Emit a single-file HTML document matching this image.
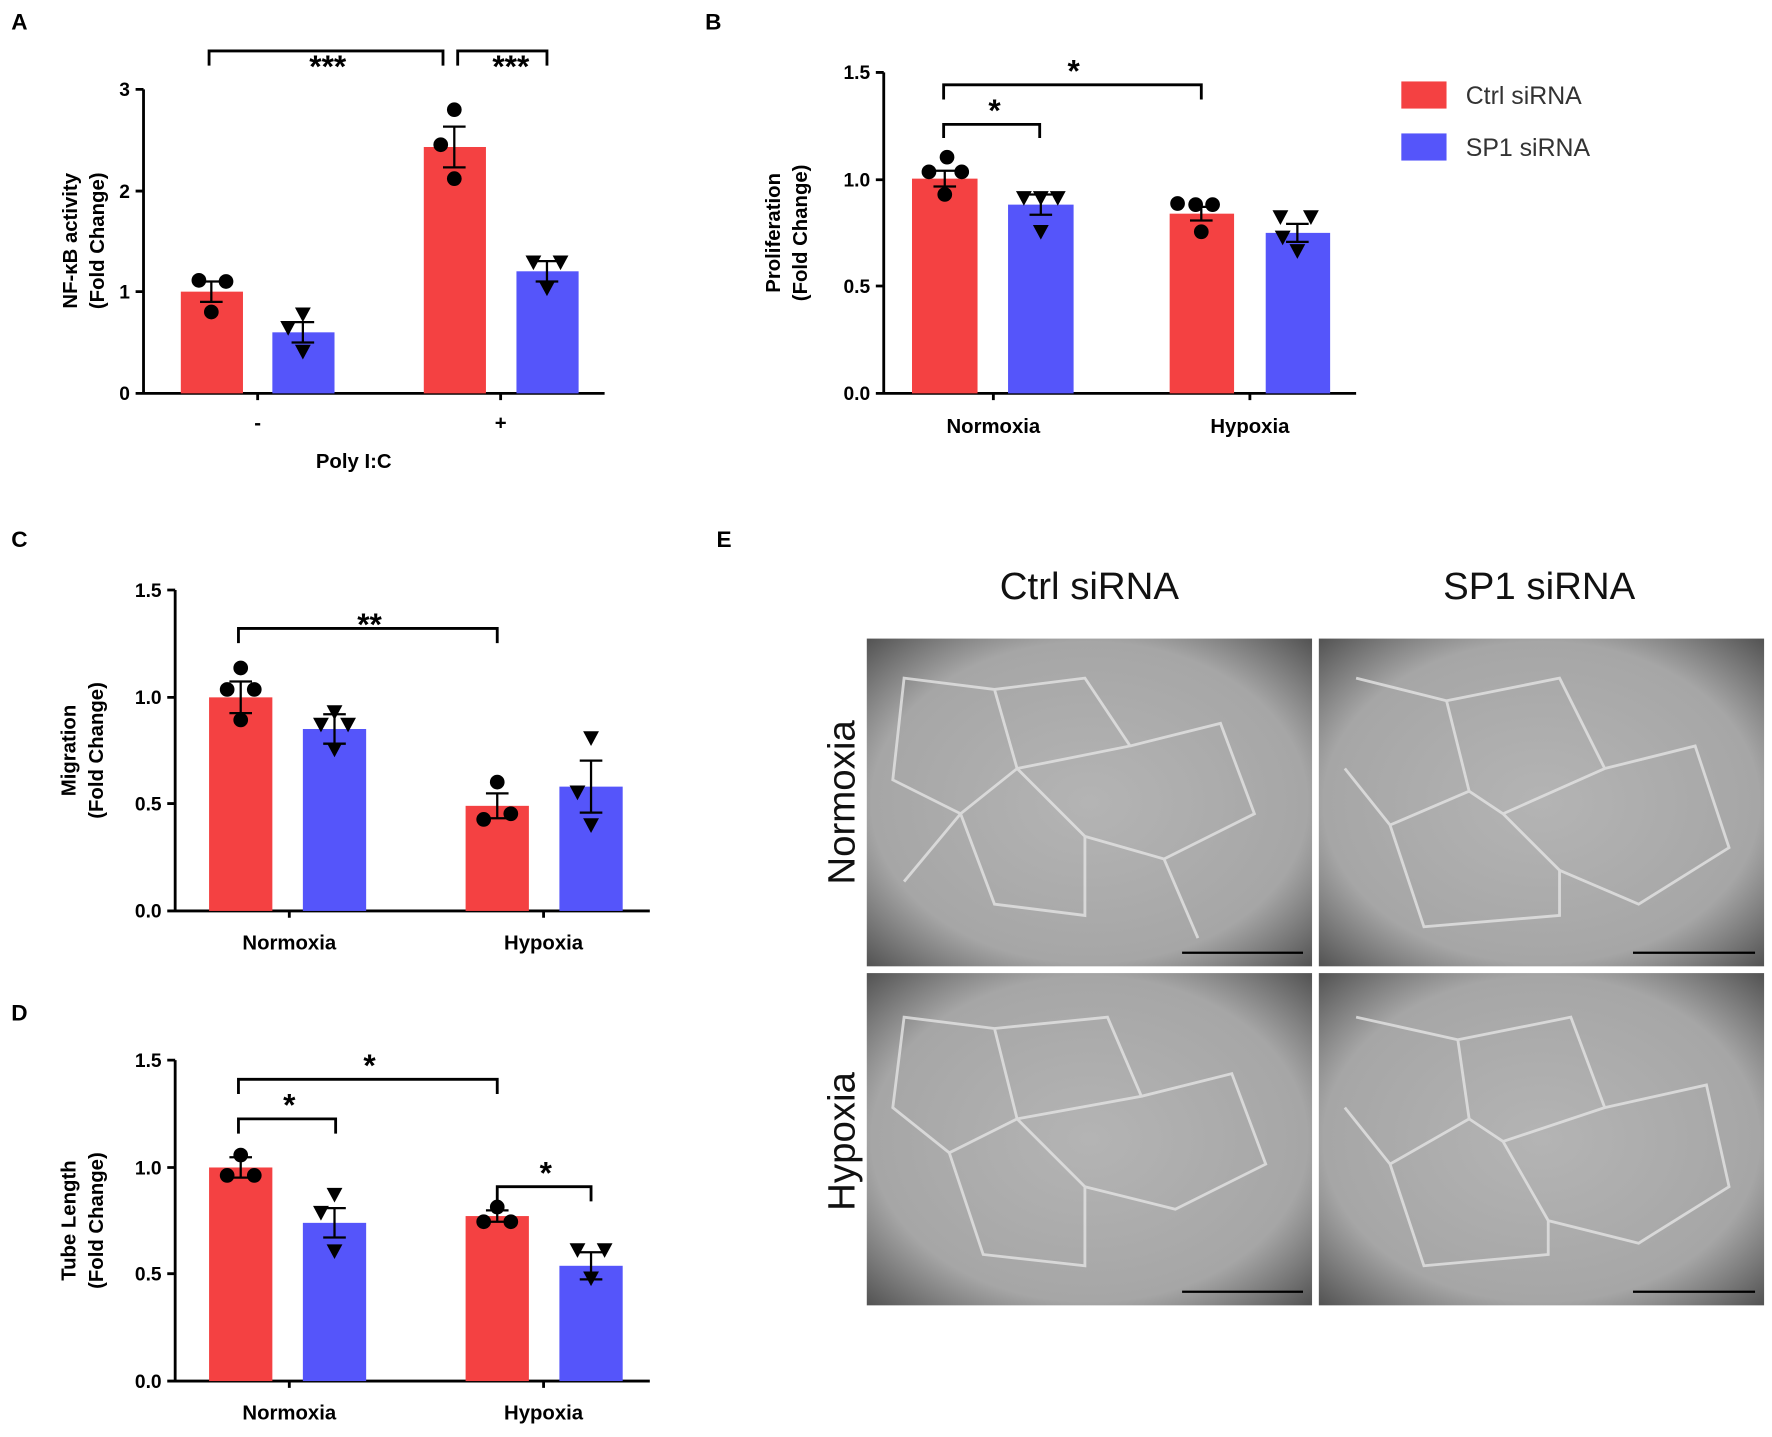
<!DOCTYPE html>
<html><head><style>body{margin:0;background:#fff}</style></head><body>
<svg width="1772" height="1432" viewBox="0 0 1568 1267" xmlns="http://www.w3.org/2000/svg" font-family="Liberation Sans, Arial, sans-serif">
<defs>
<radialGradient id="g" cx="50%" cy="50%" r="70%"><stop offset="0" stop-color="#b4b4b4"/><stop offset="0.7" stop-color="#a6a6a6"/><stop offset="1" stop-color="#555"/></radialGradient>
<g id="tri"><path d="M-7,-6 L7,-6 L0,7 Z" fill="#000"/></g>
</defs>
<g font-weight="bold" font-size="20">
<text x="10" y="26">A</text><text x="624" y="26">B</text><text x="10" y="484">C</text><text x="10" y="903">D</text><text x="634" y="484">E</text>
</g>
<g stroke="#000" stroke-width="2.5" fill="none">
<!-- A axes -->
<path d="M127,79 V348 H535 M120,79H127 M120,169H127 M120,258H127 M120,348H127 M228,348v6 M443,348v6"/>
<!-- B axes -->
<path d="M782,64 V348 H1200 M775,64H782 M775,159H782 M775,253H782 M775,348H782 M879,348v6 M1106,348v6"/>
<!-- C axes -->
<path d="M155,522 V806 H575 M148,522H155 M148,617H155 M148,711H155 M148,806H155 M256,806v6 M481,806v6"/>
<!-- D axes -->
<path d="M155,938 V1222 H575 M148,938H155 M148,1033H155 M148,1127H155 M148,1222H155 M256,1222v6 M481,1222v6"/>
</g>
<g font-size="17" font-weight="bold" text-anchor="end">
<text x="115" y="85">3</text><text x="115" y="175">2</text><text x="115" y="264">1</text><text x="115" y="354">0</text>
<text x="770" y="70">1.5</text><text x="770" y="165">1.0</text><text x="770" y="259">0.5</text><text x="770" y="354">0.0</text>
<text x="143" y="528">1.5</text><text x="143" y="623">1.0</text><text x="143" y="717">0.5</text><text x="143" y="812">0.0</text>
<text x="143" y="944">1.5</text><text x="143" y="1039">1.0</text><text x="143" y="1133">0.5</text><text x="143" y="1228">0.0</text>
</g>
<g font-size="18" font-weight="bold" text-anchor="middle">
<text x="228" y="380">-</text><text x="443" y="380">+</text><text x="313" y="414">Poly I:C</text>
<text x="879" y="383">Normoxia</text><text x="1106" y="383">Hypoxia</text>
<text x="256" y="840">Normoxia</text><text x="481" y="840">Hypoxia</text>
<text x="256" y="1256">Normoxia</text><text x="481" y="1256">Hypoxia</text>
<text transform="translate(68,213) rotate(-90)">NF-κB activity</text><text transform="translate(92,213) rotate(-90)">(Fold Change)</text>
<text transform="translate(690,206) rotate(-90)">Proliferation</text><text transform="translate(714,206) rotate(-90)">(Fold Change)</text>
<text transform="translate(67,664) rotate(-90)">Migration</text><text transform="translate(91,664) rotate(-90)">(Fold Change)</text>
<text transform="translate(67,1080) rotate(-90)">Tube Length</text><text transform="translate(91,1080) rotate(-90)">(Fold Change)</text>
</g>
<!-- bars -->
<g fill="#f44142">
<rect x="160" y="258" width="55" height="90"/><rect x="375" y="130" width="55" height="218"/>
<rect x="807" y="158" width="58" height="190"/><rect x="1035" y="189" width="57" height="159"/>
<rect x="185" y="617" width="56" height="189"/><rect x="412" y="713" width="56" height="93"/>
<rect x="185" y="1033" width="56" height="189"/><rect x="412" y="1076" width="56" height="146"/>
</g>
<g fill="#5555fa">
<rect x="241" y="294" width="55" height="54"/><rect x="457" y="240" width="55" height="108"/>
<rect x="892" y="181" width="58" height="167"/><rect x="1120" y="206" width="57" height="142"/>
<rect x="268" y="645" width="56" height="161"/><rect x="495" y="696" width="56" height="110"/>
<rect x="268" y="1082" width="56" height="140"/><rect x="495" y="1120" width="56" height="102"/>
</g>
<!-- error bars -->
<g stroke="#000" stroke-width="2" fill="none">
<path d="M187,249V267M177,249h20M177,267h20"/><path d="M268,285V303M258,285h20M258,303h20"/>
<path d="M402,112V148M392,112h20M392,148h20"/><path d="M484,231V249M474,231h20M474,249h20"/>
<path d="M836,151V165M826,151h20M826,165h20"/><path d="M921,172V190M911,172h20M911,190h20"/>
<path d="M1063,183V195M1053,183h20M1053,195h20"/><path d="M1148,198V214M1138,198h20M1138,214h20"/>
<path d="M213,603V631M203,603h20M203,631h20"/><path d="M296,632V658M286,632h20M286,658h20"/>
<path d="M440,702V724M430,702h20M430,724h20"/><path d="M523,673V719M513,673h20M513,719h20"/>
<path d="M213,1024V1042M203,1024h20M203,1042h20"/><path d="M296,1069V1095M286,1069h20M286,1095h20"/>
<path d="M440,1071V1081M430,1071h20M430,1081h20"/><path d="M523,1108V1132M513,1108h20M513,1132h20"/>
</g>
<!-- points -->
<g fill="#000">
<circle cx="176" cy="248" r="6.5"/><circle cx="200" cy="249" r="6.5"/><circle cx="187" cy="276" r="6.5"/>
<circle cx="402" cy="97" r="6.5"/><circle cx="390" cy="128" r="6.5"/><circle cx="402" cy="158" r="6.5"/>
<circle cx="822" cy="152" r="6.5"/><circle cx="838" cy="139" r="6.5"/><circle cx="851" cy="152" r="6.5"/><circle cx="836" cy="172" r="6.5"/>
<circle cx="1042" cy="180" r="6.5"/><circle cx="1058" cy="181" r="6.5"/><circle cx="1073" cy="181" r="6.5"/><circle cx="1063" cy="205" r="6.5"/>
<circle cx="213" cy="591" r="6.5"/><circle cx="201" cy="610" r="6.5"/><circle cx="225" cy="610" r="6.5"/><circle cx="213" cy="637" r="6.5"/>
<circle cx="440" cy="692" r="6.5"/><circle cx="428" cy="725" r="6.5"/><circle cx="452" cy="720" r="6.5"/>
<circle cx="213" cy="1022" r="6.5"/><circle cx="201" cy="1040" r="6.5"/><circle cx="225" cy="1040" r="6.5"/>
<circle cx="440" cy="1068" r="6.5"/><circle cx="428" cy="1081" r="6.5"/><circle cx="452" cy="1081" r="6.5"/>
</g>
<use href="#tri" x="268" y="278"/><use href="#tri" x="255" y="290"/><use href="#tri" x="268" y="311"/>
<use href="#tri" x="472" y="232"/><use href="#tri" x="496" y="232"/><use href="#tri" x="484" y="255"/>
<use href="#tri" x="906" y="175"/><use href="#tri" x="921" y="175"/><use href="#tri" x="936" y="175"/><use href="#tri" x="921" y="205"/>
<use href="#tri" x="1133" y="192"/><use href="#tri" x="1160" y="192"/><use href="#tri" x="1135" y="210"/><use href="#tri" x="1148" y="222"/>
<use href="#tri" x="296" y="630"/><use href="#tri" x="284" y="641"/><use href="#tri" x="308" y="641"/><use href="#tri" x="296" y="663"/>
<use href="#tri" x="523" y="653"/><use href="#tri" x="511" y="701"/><use href="#tri" x="523" y="730"/>
<use href="#tri" x="296" y="1057"/><use href="#tri" x="284" y="1073"/><use href="#tri" x="296" y="1107"/>
<use href="#tri" x="511" y="1106"/><use href="#tri" x="535" y="1106"/><use href="#tri" x="523" y="1131"/>
<!-- brackets -->
<g stroke="#000" stroke-width="2.5" fill="none">
<path d="M185,58V45H392V58"/><path d="M405,58V45H484V58"/>
<path d="M835,88V75H1063V88"/><path d="M835,122V110H920V122"/>
<path d="M211,569V556H440V569"/>
<path d="M211,968V955H440V968"/><path d="M211,1003V990H297V1003"/><path d="M440,1063V1050H523V1063"/>
</g>
<g font-size="28" font-weight="bold" text-anchor="middle">
<text x="290" y="68">***</text><text x="452" y="68">***</text>
<text x="950" y="72">*</text><text x="880" y="107">*</text>
<text x="327" y="562">**</text>
<text x="327" y="952">*</text><text x="256" y="987">*</text><text x="483" y="1047">*</text>
</g>
<!-- legend -->
<rect x="1240" y="72" width="40" height="24" fill="#f44142"/><rect x="1240" y="118" width="40" height="24" fill="#5555fa"/>
<g font-size="22" fill="#333"><text x="1297" y="92">Ctrl siRNA</text><text x="1297" y="138">SP1 siRNA</text></g>
<!-- panel E -->
<g font-size="34" fill="#111" text-anchor="middle">
<text x="964" y="530">Ctrl siRNA</text><text x="1362" y="530">SP1 siRNA</text>
<text transform="translate(756,710) rotate(-90)">Normoxia</text>
<text transform="translate(756,1010) rotate(-90)">Hypoxia</text>
</g>
<g>
<rect x="767" y="565" width="394" height="290" fill="url(#g)"/>
<rect x="1167" y="565" width="394" height="290" fill="url(#g)"/>
<rect x="767" y="861" width="394" height="294" fill="url(#g)"/>
<rect x="1167" y="861" width="394" height="294" fill="url(#g)"/>
<g stroke="#e4e4e4" stroke-width="2.5" fill="none" opacity="0.8">
<path d="M800,600 L880,610 L900,680 L850,720 L790,690Z M880,610 L960,600 L1000,660 L900,680 M1000,660 L1080,640 L1110,720 L1030,760 L960,740 L900,680 M850,720 L880,800 L960,810 L960,740 M1030,760 L1060,830 M800,780 L850,720"/>
<path d="M1200,600 L1280,620 L1300,700 L1230,730 L1190,680 M1280,620 L1380,600 L1420,680 L1330,720 L1300,700 M1420,680 L1500,660 L1530,750 L1450,800 L1380,770 L1330,720 M1230,730 L1260,820 L1380,810 L1380,770"/>
<path d="M800,900 L880,910 L900,990 L840,1020 L790,980Z M880,910 L980,900 L1010,970 L900,990 M1010,970 L1090,950 L1120,1030 L1040,1070 L960,1050 L900,990 M840,1020 L870,1110 L960,1120 L960,1050"/>
<path d="M1200,900 L1290,920 L1300,990 L1230,1030 L1190,980 M1290,920 L1390,900 L1420,980 L1330,1010 L1300,990 M1420,980 L1510,960 L1530,1050 L1450,1100 L1370,1080 L1330,1010 M1230,1030 L1260,1120 L1370,1110 L1370,1080"/>
</g>
<g stroke="#000" stroke-width="2"><path d="M1046,843H1153M1445,843H1553M1046,1143H1153M1445,1143H1553"/></g>
</g>
</svg>
</body></html>
